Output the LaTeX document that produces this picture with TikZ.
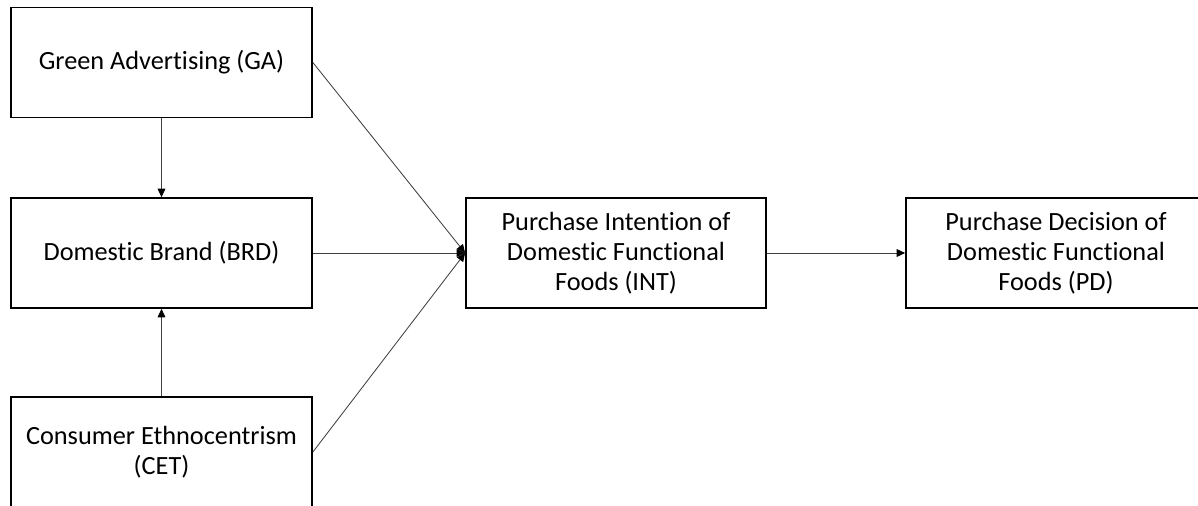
\documentclass[tikz,border=0pt]{standalone}
\usepackage{fontspec}
\setmainfont{Carlito}[Ligatures=NoCommon]
\usetikzlibrary{arrows.meta}

\begin{document}
\begin{tikzpicture}[x=0.025cm, y=-0.025cm,
		node_style/.style={rectangle,draw=black,line width=1.2pt,align=center,inner sep=0pt,
			minimum width=7.525cm,minimum height=2.75cm,font=\fontsize{18.7}{21.3}\selectfont},
		edge_style/.style={draw=black!75,line width=0.6pt,-{Triangle[length=6pt,width=5.5pt,black]}}]

		\useasboundingbox (0,0) rectangle (1198,506);

		\node[node_style] (ga) at (161.5,62.5)  {Green Advertising (GA)};
		\node[node_style] (brd) at (161.5,253)  {Domestic Brand (BRD)};
		\node[node_style] (cet) at (161.5,452)  {Consumer Ethnocentrism\\(CET)};
		\node[node_style,minimum width=7.5cm] (int) at (616,253)  {Purchase Intention of\\Domestic Functional\\Foods (INT)};
		\node[node_style,minimum width=7.5cm] (pd) at (1056,253)  {Purchase Decision of\\Domestic Functional\\Foods (PD)};

		\draw[edge_style]  (ga) -- (brd);
		\draw[edge_style]  (cet) -- (brd);
		\draw[edge_style]  (ga.east) -- (int.west);
		\draw[edge_style]  (brd) -- (int);
		\draw[edge_style]  (cet.east) -- (int.west);
		\draw[edge_style]  (int) -- (pd);
\end{tikzpicture}
\end{document}
